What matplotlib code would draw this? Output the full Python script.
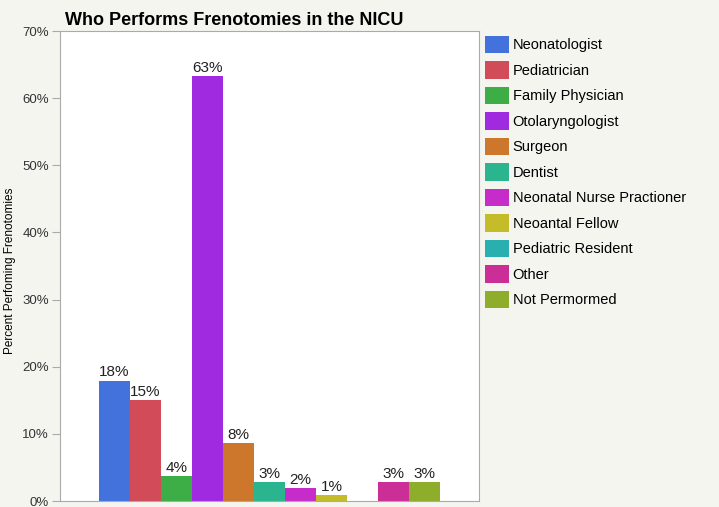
import matplotlib
matplotlib.use("Agg")
import matplotlib.pyplot as plt
from matplotlib.patches import Patch
from matplotlib.ticker import PercentFormatter

plt.rcParams['font.family'] = ['Liberation Sans', 'DejaVu Sans']

# Data
roles = ["Neonatologist", "Pediatrician", "Family Physician", "Otolaryngologist",
         "Surgeon", "Dentist", "Neonatal Nurse Practioner", "Neoantal Fellow",
         "Pediatric Resident", "Other", "Not Permormed"]
percent = [17.9, 15.0, 3.7, 63.3, 8.6, 2.8, 1.9, 0.9, 0.0, 2.8, 2.8]
labels = ["18%", "15%", "4%", "63%", "8%", "3%", "2%", "1%", "", "3%", "3%"]
colors = ["#4472dd", "#d24b59", "#3dae46", "#9f2adf", "#cc772b", "#2bb58f",
          "#c62cca", "#c5bc2a", "#2aafb1", "#cb2e96", "#8eae2b"]

bg = "#f5f5f0"
fig = plt.figure(figsize=(7.19, 5.07), dpi=100, facecolor=bg)
ax = fig.add_axes([60/719, 6/507, 419/719, 470/507])

x = range(len(roles))
bars = ax.bar(x, percent, width=1.0, color=colors)
for b, lab in zip(bars, labels):
    if lab:
        ax.text(b.get_x() + b.get_width()/2, b.get_height() + 0.2, lab,
                ha="center", va="bottom", fontsize=11, color="#222222")

ax.set_xlim(-1.76, 11.76)
ax.set_ylim(0, 70)
ax.set_yticks(range(0, 71, 10))
ax.yaxis.set_major_formatter(PercentFormatter(decimals=0))
ax.set_xticks([])
ax.tick_params(axis="y", length=6, color="#aaaaaa", labelsize=9.5,
               labelcolor="#333333", pad=2)
for s in ax.spines.values():
    s.set_color("#aaaaaa")
ax.set_ylabel("Percent Perfoming Frenotomies", fontsize=8.5)
ax.yaxis.set_label_coords(-0.105, 0.49)

fig.text(65/719, (507-25)/507, "Who Performs Frenotomies in the NICU",
         fontsize=13, fontweight="bold", ha="left", va="baseline")

handles = [Patch(facecolor=c, edgecolor="none") for c in colors]
fig.legend(handles, roles, loc="upper left",
           bbox_to_anchor=(485/719, (507-36)/507), frameon=False,
           fontsize=10.5, handlelength=1.65, handleheight=1.45,
           handletextpad=0.25, labelspacing=0.56, borderpad=0,
           borderaxespad=0)

fig.savefig("out.png", dpi=100, facecolor=bg)
